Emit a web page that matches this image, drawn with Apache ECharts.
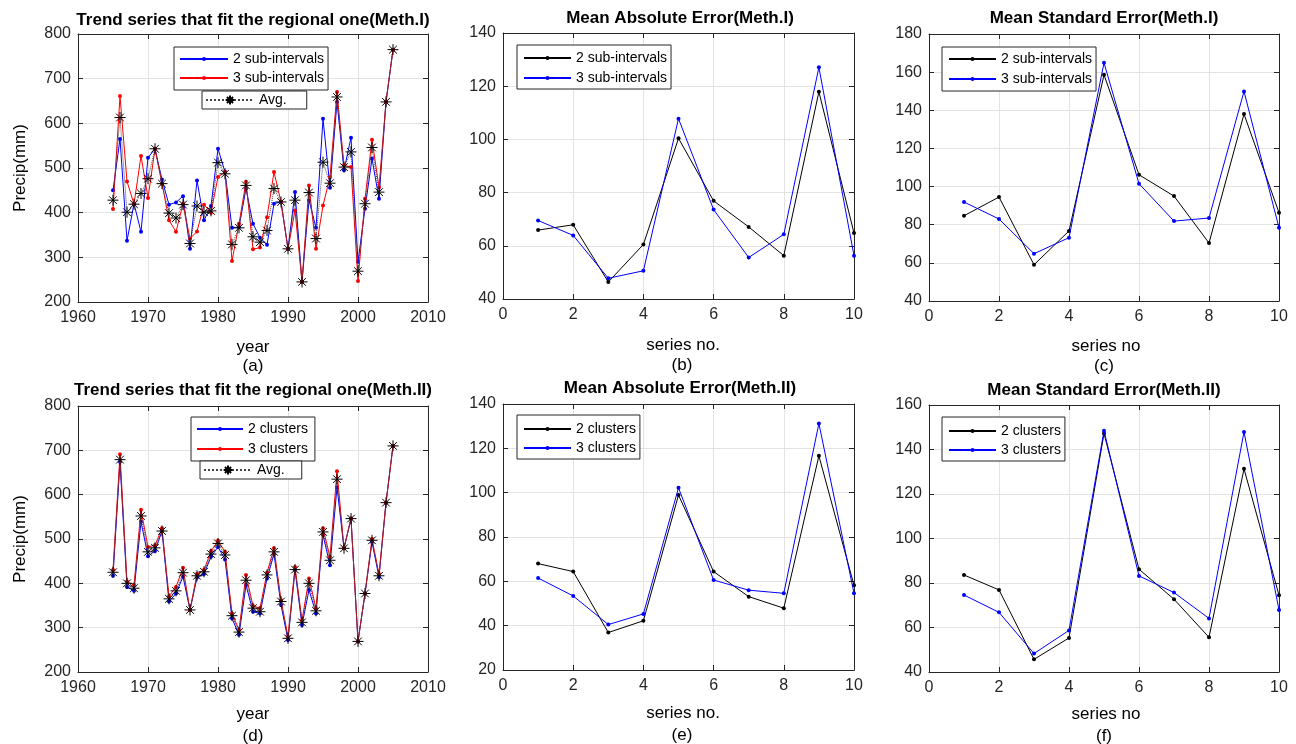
<!DOCTYPE html>
<html>
<head>
<meta charset="utf-8">
<script src="https://cdn.jsdelivr.net/npm/echarts@6/dist/echarts.min.js"></script>
<style>
html,body{margin:0;padding:0;background:#fff;}
#chart{width:1296px;height:744px;}
</style>
</head>
<body>
<div id="chart"></div>
<script>
// ---------------- DATA ----------------
const years = [1965,1966,1967,1968,1969,1970,1971,1972,1973,1974,1975,1976,1977,1978,1979,1980,1981,1982,1983,1984,1985,1986,1987,1988,1989,1990,1991,1992,1993,1994,1995,1996,1997,1998,1999,2000,2001,2002,2003,2004,2005];
const seriesNo = [1,2,3,4,5,6,7,8,9,10];

// (a) Meth.I trend series
const a2sub = [450,565,337,420,357,523,543,474,418,423,437,319,472,383,415,543,491,366,368,454,375,344,328,420,424,319,446,245,428,366,610,456,648,495,568,290,409,521,431,648,765];
const a3sub = [408,661,470,419,527,433,543,465,383,357,420,342,358,418,400,480,491,292,375,469,318,322,390,491,424,319,405,245,461,319,416,480,670,506,502,247,431,563,457,648,765];
const aAvg  = [428,613,401,419,443,476,543,465,399,388,418,331,415,401,404,512,487,329,366,461,346,334,360,454,424,319,428,245,445,342,513,466,659,502,536,269,420,546,446,648,765];

// (d) Meth.II trend series
const d2cl = [417,674,392,383,539,461,473,518,359,377,415,340,413,421,460,482,454,321,284,396,336,332,411,466,351,272,430,306,385,332,509,441,617,479,546,269,377,493,414,582,710];
const d3cl = [430,691,404,396,566,482,486,524,371,392,435,340,421,430,473,496,471,332,295,419,349,344,424,479,362,280,437,317,411,344,524,460,653,479,546,269,377,500,421,582,710];
const dAvg = [425,679,400,389,552,471,480,518,365,383,424,340,417,426,466,490,464,327,290,407,344,336,419,471,359,276,431,312,400,338,516,452,635,479,546,269,377,497,417,582,710];

// (b) Mean Absolute Error (Meth.I)
const b2sub = [65.9,67.9,46.4,60.5,100.4,76.9,67.1,56.3,117.9,64.8];
const b3sub = [69.5,63.9,47.8,50.6,107.8,73.6,55.6,64.3,127.1,56.3];
// (c) Mean Standard Error (Meth.I)
const c2sub = [84.7,94.5,59.0,76.7,158.6,106.2,95.0,70.4,138.0,86.3];
const c3sub = [91.9,83.0,64.8,73.2,164.9,101.5,81.9,83.5,149.9,78.4];
// (e) Mean Absolute Error (Meth.II)
const e2cl = [68.0,64.4,36.9,42.2,98.9,64.4,53.1,47.9,116.6,58.2];
const e3cl = [61.5,53.4,40.5,45.3,102.2,60.6,56.0,54.6,131.2,54.6];
// (f) Mean Standard Error (Meth.II)
const f2cl = [83.6,76.9,45.7,55.3,147.2,86.2,72.7,55.6,131.3,74.5];
const f3cl = [74.6,66.8,48.3,58.7,148.4,83.2,75.7,64.1,147.9,67.9];

// text
const titles = ['Trend series that fit the regional one(Meth.I)','Mean Absolute Error(Meth.I)','Mean Standard Error(Meth.I)',
                'Trend series that fit the regional one(Meth.II)','Mean Absolute Error(Meth.II)','Mean Standard Error(Meth.II)'];
const panelTags = ['(a)','(b)','(c)','(d)','(e)','(f)'];
const xNames = ['year','series no.','series no','year','series no.','series no'];
const yName = 'Precip(mm)';
const legendI = ['2 sub-intervals','3 sub-intervals','Avg.'];
const legendII = ['2 clusters','3 clusters','Avg.'];

// ---------------- LAYOUT ----------------
const FONT = '"Liberation Sans", Arial, sans-serif';
const AX = '#262626';
const GRIDC = '#e3e3e3';
const grids = [
  {left:78, top:34, width:350, height:268},
  {left:503, top:33, width:351, height:266},
  {left:929, top:34, width:350, height:267},
  {left:78, top:406, width:350, height:266},
  {left:503, top:404, width:351, height:266},
  {left:929, top:405, width:350, height:267}
];
const xScales = [
  {min:1960,max:2010,interval:10},{min:0,max:10,interval:2},{min:0,max:10,interval:2},
  {min:1960,max:2010,interval:10},{min:0,max:10,interval:2},{min:0,max:10,interval:2}
];
const yScales = [
  {min:200,max:800,interval:100},{min:40,max:140,interval:20},{min:40,max:180,interval:20},
  {min:200,max:800,interval:100},{min:20,max:140,interval:20},{min:40,max:160,interval:20}
];

const plain = (v)=>String(v);
const xAxis = [], yAxis = [];
grids.forEach((g,i)=>{
  xAxis.push({type:'value', gridIndex:i, position:'bottom', min:xScales[i].min, max:xScales[i].max, interval:xScales[i].interval,
    axisLine:{show:true,onZero:false,lineStyle:{color:AX,width:1}},
    axisTick:{show:true,inside:true,length:5,lineStyle:{color:AX}},
    axisLabel:{show:true,color:AX,fontSize:16,fontFamily:FONT,margin:8,showMinLabel:true,showMaxLabel:true,formatter:plain},
    splitLine:{show:true,lineStyle:{color:GRIDC,width:1}}});
  xAxis.push({type:'value', gridIndex:i, position:'top', min:xScales[i].min, max:xScales[i].max, interval:xScales[i].interval,
    axisLine:{show:true,onZero:false,lineStyle:{color:AX,width:1}},
    axisTick:{show:true,inside:true,length:5,lineStyle:{color:AX}},
    axisLabel:{show:false}, splitLine:{show:false}});
  yAxis.push({type:'value', gridIndex:i, position:'left', min:yScales[i].min, max:yScales[i].max, interval:yScales[i].interval,
    axisLine:{show:true,onZero:false,lineStyle:{color:AX,width:1}},
    axisTick:{show:true,inside:true,length:5,lineStyle:{color:AX}},
    axisLabel:{show:true,color:AX,fontSize:16,fontFamily:FONT,margin:7,showMinLabel:true,showMaxLabel:true,formatter:plain},
    splitLine:{show:true,lineStyle:{color:GRIDC,width:1}}});
  yAxis.push({type:'value', gridIndex:i, position:'right', min:yScales[i].min, max:yScales[i].max, interval:yScales[i].interval,
    axisLine:{show:true,onZero:false,lineStyle:{color:AX,width:1}},
    axisTick:{show:true,inside:true,length:5,lineStyle:{color:AX}},
    axisLabel:{show:false}, splitLine:{show:false}});
});

const STAR = 'path://M5,0L5,10M0,5L10,5M1.5,1.5L8.5,8.5M1.5,8.5L8.5,1.5';
const labelMap = {};
const series = [];
function pairs(xs, ys){ return xs.map((x,k)=>[x, ys[k]]); }
function dotSeries(id, text, panel, xs, ys, color, z){
  labelMap[id] = text;
  series.push({type:'line', name:id, xAxisIndex:panel*2, yAxisIndex:panel*2, data:pairs(xs,ys),
    symbol:'circle', symbolSize:4, showSymbol:true, color:color,
    itemStyle:{color:color}, lineStyle:{color:color,width:1}, z:z, animation:false, silent:true});
}
function avgSeries(id, text, panel, xs, ys){
  labelMap[id] = text;
  series.push({type:'line', name:id, xAxisIndex:panel*2, yAxisIndex:panel*2, data:pairs(xs,ys),
    symbol:STAR, symbolSize:11, showSymbol:true, color:'#000',
    itemStyle:{color:'#000',borderColor:'#000',borderWidth:1},
    lineStyle:{color:'#444',width:1,type:'dotted'}, z:5, animation:false, silent:true});
}
dotSeries('a2', legendI[0], 0, years, a2sub, '#0000ff', 3);
dotSeries('a3', legendI[1], 0, years, a3sub, '#ff0000', 4);
avgSeries('aA', legendI[2], 0, years, aAvg);
dotSeries('b2', legendI[0], 1, seriesNo, b2sub, '#000000', 3);
dotSeries('b3', legendI[1], 1, seriesNo, b3sub, '#0000ff', 4);
dotSeries('c2', legendI[0], 2, seriesNo, c2sub, '#000000', 3);
dotSeries('c3', legendI[1], 2, seriesNo, c3sub, '#0000ff', 4);
dotSeries('d2', legendII[0], 3, years, d2cl, '#0000ff', 3);
dotSeries('d3', legendII[1], 3, years, d3cl, '#ff0000', 4);
avgSeries('dA', legendII[2], 3, years, dAvg);
dotSeries('e2', legendII[0], 4, seriesNo, e2cl, '#000000', 3);
dotSeries('e3', legendII[1], 4, seriesNo, e3cl, '#0000ff', 4);
dotSeries('f2', legendII[0], 5, seriesNo, f2cl, '#000000', 3);
dotSeries('f3', legendII[1], 5, seriesNo, f3cl, '#0000ff', 4);

function legendBox(names, left, top, padding, itemWidth, itemHeight, itemGap){
  return {show:true, orient:'vertical', align:'left', left:left, top:top, padding:padding,
    itemWidth:itemWidth, itemHeight:itemHeight, itemGap:itemGap, data:names,
    backgroundColor:'#fff', borderColor:AX, borderWidth:1, borderRadius:0, selectedMode:false,
    formatter:(n)=>labelMap[n], textStyle:{color:'#000',fontSize:14,fontFamily:FONT}};
}
const legend = [
  legendBox(['a2','a3'], 174, 47, [5,4,5,5], 48, 5, 5),
  legendBox(['aA'], 202, 91, [2,20,2,3], 48, 11, 0),
  legendBox(['b2','b3'], 517, 45, [6,4,4,6], 47, 5, 6),
  legendBox(['c2','c3'], 942, 47, [5,4,5,6], 47, 5, 6),
  legendBox(['d2','d3'], 191, 417, [5,7,5,5], 46, 5, 6),
  legendBox(['dA'], 200, 461, [2,17,2,3], 48, 11, 0),
  legendBox(['e2','e3'], 517, 415, [7,4,4,6], 47, 5, 5),
  legendBox(['f2','f3'], 942, 417, [7,4,4,6], 47, 5, 5)
];

// text graphics
const graphic = [];
function txt(x,y,text,size,bold,rot){
  const el = {type:'text', x:x, y:y, z:100, silent:true,
    style:{text:text, fill:'#000', font:(bold?'bold ':'')+size+'px '+FONT,
      align:'center', verticalAlign:'middle', textAlign:'center', textVerticalAlign:'middle'}};
  if (rot) el.rotation = rot;
  graphic.push(el);
}
const titlePos = [[253,20],[680,18],[1104,18],[253,390],[680,388],[1104,390]];
titlePos.forEach((p,i)=>txt(p[0],p[1],titles[i],17,true));
const xNamePos = [[253,347],[683,345],[1106,346],[253,714],[683,713],[1106,714]];
xNamePos.forEach((p,i)=>txt(p[0],p[1],xNames[i],17,false));
const tagPos = [[253,366],[682,365],[1104,366],[253,736],[682,735],[1104,736]];
tagPos.forEach((p,i)=>txt(p[0],p[1],panelTags[i],17,false));
txt(20,168,yName,17,false,Math.PI/2);
txt(20,539,yName,17,false,Math.PI/2);

const chart = echarts.init(document.getElementById('chart'), null, {renderer:'canvas'});
chart.setOption({
  animation:false,
  backgroundColor:'#fff',
  grid: grids.map(g=>Object.assign({containLabel:false, show:false}, g)),
  xAxis: xAxis, yAxis: yAxis, series: series, legend: legend, graphic: graphic,
  tooltip:{show:false}
});
</script>
</body>
</html>
